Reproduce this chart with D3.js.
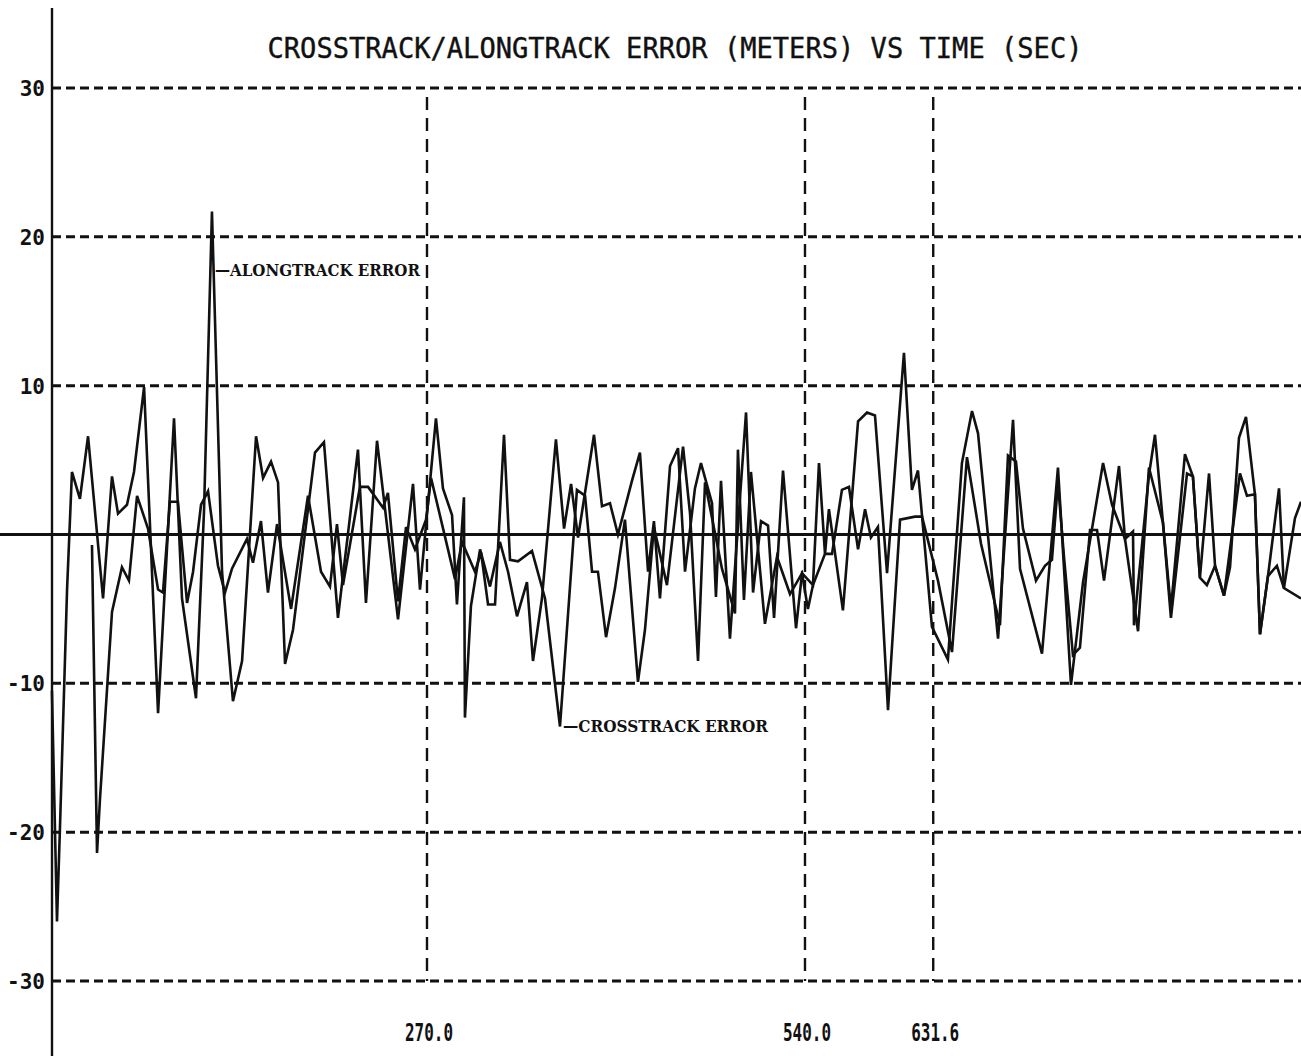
<!DOCTYPE html>
<html><head><meta charset="utf-8">
<script src="https://cdn.jsdelivr.net/npm/d3@7"></script>
<style>html,body{margin:0;padding:0;background:#fff;overflow:hidden}</style>
</head><body>
<svg id="c" width="1301" height="1056"></svg>
<script>
const titleText = "CROSSTRACK/ALONGTRACK ERROR (METERS) VS TIME (SEC)";
const yTicks = [30, 20, 10, -10, -20, -30];
const yTickLabels = ["30", "20", "10", "-10", "-20", "-30"];
const markerTimes = [270.0, 540.0, 631.6];
const markerLabels = ["270.0", "540.0", "631.6"];

const alongTime = [2.1, 5.7, 7.9, 12.9, 16.4, 22.1, 27.9, 38.6, 45.0, 49.3,
 55.7, 60.7, 67.9, 77.9, 89.3, 95.0, 105.0, 110.7, 116.4, 123.6,
 131.4, 137.9, 147.9, 152.9, 158.6, 163.6, 168.6, 174.3, 190.0, 196.4,
 206.4, 220.7, 226.4, 234.3, 249.3, 260.0, 265.0, 276.4, 281.4, 287.9,
 291.4, 296.4, 297.1, 301.4, 307.9, 315.0, 322.1, 327.9, 334.3, 341.4,
 345.7, 352.1, 362.1, 367.9, 372.9, 377.9, 389.3, 395.0, 400.7, 406.4,
 416.4, 422.1, 427.9, 432.1, 436.4, 443.6, 449.3, 454.3, 461.4, 465.7,
 473.6, 476.4, 480.0, 486.4, 497.9, 502.9, 508.6, 513.6, 517.9, 524.3,
 533.6, 537.9, 545.7, 550.0, 554.3, 557.1, 567.1, 577.9, 584.3, 590.0,
 598.6, 610.7, 616.4, 620.7, 630.7, 642.1, 652.1, 659.3, 663.6, 677.9,
 688.6, 693.6, 709.3, 720.7, 730.0, 738.6, 752.9, 759.3, 768.6, 777.9,
 785.7, 795.7, 801.4, 811.4, 817.1, 822.1, 827.1, 832.9, 839.3, 850.7,
 855.7, 861.4, 865.0, 870.7, 877.1, 882.1, 890.0, 894.3];
const alongErr = [-10.5, -26, -19.5, -3.7, 4.2, 2.4, 6.6, -4.3, 3.9, 1.4,
 2.0, 4.2, 9.9, -12, 7.8, -4.3, -11, 1.5, 21.7, -2.5,
 -11.2, -8.5, 6.6, 3.8, 4.9, 3.5, -8.7, -6.4, 5.5, 6.2,
 -5.6, 5.7, -4.6, 6.3, -5.7, 3.4, -3.7, 7.8, 3.1, 1.3,
 -4.7, 2.5, -12.3, -4.8, -1.0, -3.5, -0.5, -2.5, -5.5, -3.2,
 -8.5, -4.3, 6.4, 0.4, 3.4, -0.2, 6.7, 1.9, 2.1, 0.0,
 3.6, 5.5, -2.5, 0.9, -4.3, 4.6, 5.8, -2.5, 3.1, 4.8,
 2.1, -4.2, 3.6, -7.0, 8.2, -3.9, 0.9, 0.6, -5.6, 4.3,
 -6.3, -2.6, -3.4, 4.8, -1.3, 1.7, -5.1, 7.6, 8.2, 8.0,
 -2.6, 12.2, 3.0, 4.3, -6.2, -8.4, 4.8, 8.3, 6.8, -7.0,
 7.7, -2.3, -8.0, 4.5, -10.1, -3.2, 4.8, 2.0, -0.3, -6.5,
 4.5, 0.8, -5.0, 5.4, 3.9, -2.9, -3.4, -2.1, -4.1, 4.1,
 2.6, 2.7, -6.7, -2.8, -2.1, -3.6, 1.1, 2.2];

const crossTime = [30.7, 34.3, 36.4, 45.0, 52.1, 57.1, 62.9, 70.7, 77.9, 81.4,
 86.4, 92.1, 98.6, 102.9, 108.6, 113.6, 120.7, 125.7, 130.7, 141.4,
 145.7, 151.4, 156.4, 162.9, 172.9, 185.0, 194.3, 200.7, 205.7, 210.0,
 222.1, 227.9, 238.6, 242.1, 249.3, 255.0, 261.4, 269.3, 272.9, 285.0,
 290.0, 295.0, 304.3, 308.6, 313.6, 318.6, 325.0, 329.3, 335.0, 345.0,
 354.3, 365.0, 377.1, 382.9, 387.9, 392.1, 397.9, 404.3, 411.4, 420.7,
 425.7, 432.1, 441.4, 452.9, 457.9, 463.6, 468.6, 480.7, 490.0, 492.1,
 496.4, 501.4, 511.4, 520.0, 529.3, 537.9, 542.1, 545.7, 554.3, 559.3,
 566.4, 571.4, 577.9, 582.9, 587.1, 592.1, 599.3, 607.9, 618.6, 623.6,
 635.0, 645.0, 655.7, 665.7, 679.3, 685.0, 690.7, 695.7, 705.0, 711.4,
 716.4, 720.7, 725.0, 731.4, 736.4, 743.6, 748.6, 753.6, 764.3, 768.6,
 774.3, 775.0, 785.7, 790.0, 795.7, 801.4, 812.9, 817.1, 822.1, 828.6,
 832.9, 839.3, 843.6, 850.0, 855.0, 861.4, 865.0, 870.7, 878.6, 882.1,
 894.3];
const crossErr = [-0.7, -21.4, -17.8, -5.2, -2.2, -3.1, 2.6, 0.4, -3.7, -3.9,
 2.2, 2.2, -4.6, -2.5, 2.0, 2.9, -2.1, -3.9, -2.3, -0.3,
 -1.9, 0.9, -3.9, 0.7, -5.0, 2.6, -2.5, -3.5, 0.7, -3.4,
 3.2, 3.2, 1.8, 2.8, -4.5, 0.5, -1.0, 1.0, 3.8, -1.0,
 -3.0, -0.5, -2.5, -1.2, -4.7, -4.7, 6.7, -1.7, -1.8, -1.1,
 -4.3, -12.9, 3.0, 2.6, -2.5, -2.5, -6.9, -3.6, 1.0, -9.9,
 -6.4, 0.5, -3.4, 5.9, 1.4, -8.5, 3.5, -2.3, -5.3, 5.7,
 -4.4, 4.2, -6.0, -1.5, -4.0, -2.6, -5.0, -3.4, -1.3, -1.3,
 3.0, 3.2, -1.0, 1.7, -0.2, 0.5, -11.8, 1.0, 1.2, 1.2,
 -3.1, -7.9, 5.2, -0.6, -6.1, 5.3, 4.9, 0.4, -3.1, -2.1,
 -1.7, 3.5, -1.5, -8.1, -7.6, 0.3, 0.3, -3.1, 4.6, -0.3,
 0.2, -6.1, 4.0, 6.7, 0.8, -5.6, 4.1, 3.9, -2.9, 4.1,
 -2.1, -4.1, -2.2, 6.5, 7.9, 2.7, -6.7, -2.8, 3.1, -3.6,
 -4.3];

const annotations = [
  {text: "\u2014ALONGTRACK ERROR", t: 116.4, v: 17.8, len: 205},
  {text: "\u2014CROSSTRACK ERROR", t: 365.0, v: -12.9, len: 205}
];

const W = 1301, H = 1056;
const axisX = 52;
const svg = d3.select("#c");
svg.append("rect").attr("width", W).attr("height", H).attr("fill", "#fff");

const x = d3.scaleLinear().domain([0, 894.3]).range([49, 1301]);
const y = d3.scaleLinear().domain([-30, 30]).range([981, 88]);
const ink = "#111";

// title
svg.append("text")
  .attr("x", 675).attr("y", 58)
  .attr("text-anchor", "middle")
  .attr("font-family", "DejaVu Sans Mono, monospace")
  .attr("font-size", 28)
  .attr("stroke", ink).attr("stroke-width", 0.4)
  .attr("textLength", 815).attr("lengthAdjust", "spacingAndGlyphs")
  .attr("fill", ink)
  .text(titleText);

// dashed horizontal gridlines
svg.append("g").selectAll("line").data(yTicks).join("line")
  .attr("x1", axisX).attr("x2", W)
  .attr("y1", d => y(d)).attr("y2", d => y(d))
  .attr("stroke", ink).attr("stroke-width", 3)
  .attr("stroke-dasharray", "9,5");

// y tick labels
svg.append("g").selectAll("text").data(yTicks).join("text")
  .attr("x", 45).attr("y", d => y(d) + 8)
  .attr("text-anchor", "end")
  .attr("font-family", "DejaVu Sans Mono, monospace")
  .attr("font-weight", "bold")
  .attr("font-size", 21)
  .attr("fill", ink)
  .text((d, i) => yTickLabels[i]);

// vertical dashed markers
svg.append("g").selectAll("line").data(markerTimes).join("line")
  .attr("x1", d => x(d)).attr("x2", d => x(d))
  .attr("y1", y(29.4)).attr("y2", y(-30))
  .attr("stroke", ink).attr("stroke-width", 2.4)
  .attr("stroke-dasharray", "13,8");

svg.append("g").selectAll("text").data(markerTimes).join("text")
  .attr("x", d => x(d) + 2).attr("y", 1041)
  .attr("text-anchor", "middle")
  .attr("font-family", "DejaVu Sans Mono, monospace")
  .attr("font-weight", "bold")
  .attr("font-size", 25)
  .attr("textLength", 48).attr("lengthAdjust", "spacingAndGlyphs")
  .attr("fill", ink)
  .text((d, i) => markerLabels[i]);

// zero line
svg.append("line")
  .attr("x1", 0).attr("x2", W)
  .attr("y1", y(0)).attr("y2", y(0))
  .attr("stroke", ink).attr("stroke-width", 2.8);

// left axis
svg.append("line")
  .attr("x1", axisX).attr("x2", axisX)
  .attr("y1", 8).attr("y2", H)
  .attr("stroke", ink).attr("stroke-width", 2.4);

// data lines
const line = d3.line().x(d => x(d[0])).y(d => y(d[1]));
const along = alongTime.map((t, i) => [t, alongErr[i]]);
const cross = crossTime.map((t, i) => [t, crossErr[i]]);
[along, cross].forEach(s => {
  svg.append("path").datum(s)
    .attr("d", line)
    .attr("fill", "none")
    .attr("stroke", ink)
    .attr("stroke-width", 2.6)
    .attr("stroke-linejoin", "miter");
});

// annotations
svg.append("g").selectAll("text").data(annotations).join("text")
  .attr("x", d => x(d.t) + 3).attr("y", d => y(d.v) + 6)
  .attr("font-family", "DejaVu Serif, serif")
  .attr("font-weight", "bold")
  .attr("font-size", 17)
  .attr("textLength", d => d.len).attr("lengthAdjust", "spacingAndGlyphs")
  .attr("fill", ink)
  .text(d => d.text);
</script>
</body></html>
